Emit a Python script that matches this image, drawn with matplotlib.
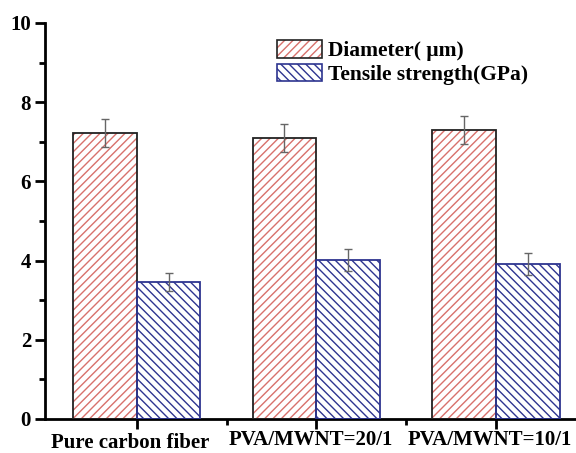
import matplotlib
matplotlib.use("Agg")
import matplotlib.pyplot as plt
import matplotlib.transforms as mtransforms
from matplotlib.ticker import MultipleLocator, FixedLocator
import numpy as np

categories = ["Pure carbon fiber", "PVA/MWNT=20/1", "PVA/MWNT=10/1"]
diameter = [7.22, 7.10, 7.30]
diameter_err = [0.36, 0.35, 0.36]
strength = [3.46, 4.02, 3.91]
strength_err = [0.23, 0.27, 0.28]

plt.rcParams["font.family"] = ["Liberation Serif", "DejaVu Serif"]
plt.rcParams["font.weight"] = "bold"
plt.rcParams["hatch.linewidth"] = 1.0

red = "#d8716c"
blue = "#2e3590"
dark = "#222222"

fig = plt.figure(figsize=(5.76, 4.53), dpi=100)
ax = fig.add_axes([45 / 576, 34 / 453, 541 / 576, 396 / 453])

x = np.arange(len(categories))
w = 0.355

# hatch drawn in colour, outline drawn separately
ax.bar(x - w / 2, diameter, width=w, color="white", edgecolor=red, hatch="////", linewidth=0, zorder=2)
ax.bar(x - w / 2, diameter, width=w, fill=False, edgecolor=dark, linewidth=1.3, zorder=3)
ax.bar(x + w / 2, strength, width=w, color="white", edgecolor=blue, hatch="\\\\\\\\", linewidth=0, zorder=2)
ax.bar(x + w / 2, strength, width=w, fill=False, edgecolor=blue, linewidth=1.3, zorder=3)

ax.errorbar(x - w / 2, diameter, yerr=diameter_err, fmt="none", ecolor="#666666",
            elinewidth=1, capsize=3, zorder=4)
ax.errorbar(x + w / 2, strength, yerr=strength_err, fmt="none", ecolor="#666666",
            elinewidth=1, capsize=3, zorder=4)

# legend handles: hatch patch + outline patch overlaid
h1 = plt.Rectangle((0, 0), 1, 1, facecolor="white", edgecolor=red, hatch="////", linewidth=0)
o1 = plt.Rectangle((0, 0), 1, 1, fill=False, edgecolor=dark, linewidth=1.2)
h2 = plt.Rectangle((0, 0), 1, 1, facecolor="white", edgecolor=blue, hatch="\\\\\\\\", linewidth=0)
o2 = plt.Rectangle((0, 0), 1, 1, fill=False, edgecolor=blue, linewidth=1.2)
leg = ax.legend([(h1, o1), (h2, o2)], ["Diameter( \u03bcm)", "Tensile strength(GPa)"],
                loc="upper left", bbox_to_anchor=(0.393, 1.005), frameon=False,
                fontsize=15.5, handlelength=2.1, handleheight=0.85,
                handletextpad=0.25, labelspacing=0.1)

ax.set_xlim(-0.51, 2.5)
ax.set_ylim(0, 10)
ax.yaxis.set_major_locator(MultipleLocator(2))
ax.yaxis.set_minor_locator(MultipleLocator(1))
ax.set_xticks(x)
ax.set_xticklabels(categories)
ax.xaxis.set_minor_locator(FixedLocator([0.5, 1.5]))

ax.spines["top"].set_visible(False)
ax.spines["right"].set_visible(False)
ax.spines["left"].set_linewidth(2)
ax.spines["bottom"].set_linewidth(2)
ax.tick_params(axis="y", which="major", direction="out", length=7, width=2,
               labelsize=15, pad=3)
ax.tick_params(axis="x", which="major", direction="out", length=7, width=2,
               labelsize=15, pad=1)
ax.tick_params(axis="both", which="minor", direction="out", length=4, width=2)
for t in ax.get_xticklabels() + ax.get_yticklabels():
    t.set_fontweight("bold")

# labels sit a bit left of their ticks; the first one also a little lower
for i, lab in enumerate(ax.get_xticklabels()):
    dy = -3 if i == 0 else 0
    lab.set_transform(lab.get_transform() + mtransforms.ScaledTranslation(-6 / 100, dy / 100, fig.dpi_scale_trans))

plt.savefig("out.png", dpi=100)
